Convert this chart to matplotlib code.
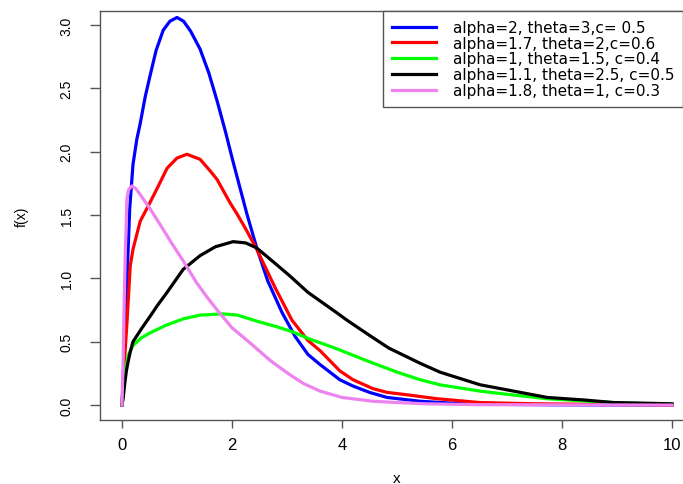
import matplotlib
matplotlib.use('Agg')
import matplotlib.pyplot as plt

matplotlib.rcParams.update({'font.family': ['Liberation Sans', 'DejaVu Sans'], 'font.size': 10})

# curves
blue_x = [0, 0.05, 0.1, 0.14, 0.2, 0.27, 0.33, 0.42, 0.51, 0.62, 0.75, 0.87, 1.0, 1.12, 1.25, 1.42,
          1.58, 1.73, 1.88, 2.02, 2.27, 2.45, 2.65, 2.91, 3.15, 3.38, 3.6, 3.96, 4.2, 4.5, 4.82, 5.42,
          6.0, 7.0, 8.0, 10.0]
blue_y = [0, 0.5, 1.1, 1.55, 1.9, 2.1, 2.22, 2.43, 2.6, 2.8, 2.96, 3.03, 3.06, 3.03, 2.95, 2.81,
          2.62, 2.40, 2.16, 1.92, 1.51, 1.24, 0.98, 0.73, 0.54, 0.40, 0.32, 0.20, 0.15, 0.10, 0.06, 0.03,
          0.015, 0.005, 0.002, 0.0]

red_x = [0, 0.02, 0.05, 0.09, 0.15, 0.2, 0.33, 0.45, 0.51, 0.65, 0.82, 1.0, 1.18, 1.42, 1.6, 1.73,
         1.96, 2.09, 2.25, 2.45, 2.78, 3.09, 3.38, 3.6, 3.96, 4.2, 4.56, 4.82, 5.2, 5.73, 6.5, 7.5, 10]
red_y = [0, 0.15, 0.38, 0.65, 1.1, 1.23, 1.45, 1.55, 1.60, 1.72, 1.87, 1.95, 1.98, 1.94, 1.85, 1.78,
         1.60, 1.51, 1.39, 1.23, 0.93, 0.67, 0.51, 0.43, 0.27, 0.20, 0.13, 0.10, 0.08, 0.05, 0.02, 0.01, 0.0]

green_x = [0, 0.03, 0.07, 0.12, 0.2, 0.35, 0.51, 0.8, 1.11, 1.42, 1.84, 2.1, 2.47, 2.8, 3.09, 3.42,
           3.87, 4.51, 5.0, 5.42, 5.78, 6.51, 7.0, 7.73, 8.5, 9.1, 10]
green_y = [0, 0.15, 0.3, 0.4, 0.47, 0.53, 0.57, 0.63, 0.68, 0.71, 0.72, 0.71, 0.66, 0.62, 0.58, 0.52,
           0.45, 0.34, 0.26, 0.20, 0.16, 0.11, 0.085, 0.05, 0.03, 0.016, 0.006]

black_x = [0, 0.02, 0.05, 0.08, 0.11, 0.15, 0.2, 0.35, 0.51, 0.65, 0.82, 1.11, 1.42, 1.7, 2.02, 2.25,
           2.45, 2.78, 3.05, 3.38, 3.9, 4.09, 4.5, 4.85, 5.42, 5.78, 6.51, 7.0, 7.73, 8.4, 8.93, 10]
black_y = [0, 0.05, 0.17, 0.27, 0.34, 0.42, 0.5, 0.6, 0.70, 0.79, 0.89, 1.07, 1.18, 1.25, 1.29, 1.28,
           1.24, 1.12, 1.02, 0.89, 0.73, 0.67, 0.55, 0.45, 0.33, 0.26, 0.16, 0.12, 0.06, 0.04, 0.02, 0.01]

pink_x = [0, 0.02, 0.04, 0.06, 0.09, 0.12, 0.18, 0.25, 0.35, 0.51, 0.7, 0.9, 1.11, 1.35, 1.55, 1.73,
          2.0, 2.33, 2.7, 3.05, 3.3, 3.6, 4.0, 4.56, 5.0, 5.5, 6.5, 10]
pink_y = [0, 0.35, 0.8, 1.2, 1.63, 1.70, 1.73, 1.71, 1.65, 1.55, 1.42, 1.28, 1.14, 0.97, 0.85, 0.75,
          0.61, 0.49, 0.35, 0.24, 0.17, 0.11, 0.06, 0.03, 0.02, 0.01, 0.003, 0]

curves = [
    (blue_x, blue_y, '#0000FF', 'alpha=2, theta=3,c= 0.5'),
    (red_x, red_y, '#FF0000', 'alpha=1.7, theta=2,c=0.6'),
    (green_x, green_y, '#00FF00', 'alpha=1, theta=1.5, c=0.4'),
    (black_x, black_y, '#000000', 'alpha=1.1, theta=2.5, c=0.5'),
    (pink_x, pink_y, '#EE82EE', 'alpha=1.8, theta=1, c=0.3'),
]

x_ticks = [0, 2, 4, 6, 8, 10]
y_ticks = [0.0, 0.5, 1.0, 1.5, 2.0, 2.5, 3.0]

W, H = 683, 485
fig = plt.figure(figsize=(W / 100, H / 100), dpi=100)
ax = fig.add_axes([100 / W, 64 / H, 594 / W, 409 / H])

for xs, ys, col, lab in curves:
    ax.plot(xs, ys, color=col, lw=2.3, label=lab)

ax.set_xlim(-0.4, 10.4)
ax.set_ylim(-0.118, 3.111)
ax.set_xticks(x_ticks)
ax.set_xticklabels([str(t) for t in x_ticks])
ax.set_yticks(y_ticks)
ax.set_yticklabels(['%.1f' % t for t in y_ticks], rotation=90, va='center')

spine_col = '#555555'
for s in ax.spines.values():
    s.set_color(spine_col)
    s.set_linewidth(1.0)
ax.tick_params(axis='x', length=6, width=1, color=spine_col, pad=6, labelsize=12)
ax.tick_params(axis='y', length=7, width=1, color=spine_col, pad=12, labelsize=10)

ax.set_xlabel('x', labelpad=14, fontsize=11)
ax.set_ylabel('f(x)', labelpad=22)

leg = ax.legend(loc='upper left', bbox_to_anchor=((383 - 100) / 594, 1.0), borderaxespad=0,
                fancybox=False, framealpha=1, edgecolor=spine_col,
                prop={'family': 'DejaVu Sans', 'size': 11},
                handlelength=2.87, handletextpad=1.1, borderpad=0.58, labelspacing=0.05)
leg.get_frame().set_linewidth(1.0)

fig.savefig('out.png', dpi=100)
